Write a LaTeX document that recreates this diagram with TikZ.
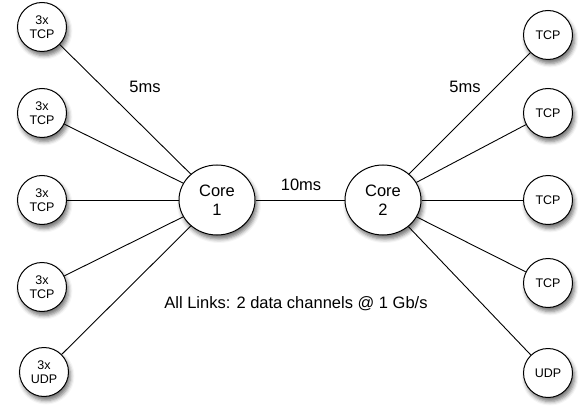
\documentclass[tikz,border=0pt]{standalone}
\usepackage{fontspec}
\setmainfont{Liberation Sans}
\usetikzlibrary{shapes.geometric,shadows.blur}
\begin{document}
\begin{tikzpicture}[x=1pt,y=-1pt,
  shad/.style={blur shadow={shadow xshift=2pt,shadow yshift=-4pt,shadow blur radius=4pt,shadow opacity=55}},
  leaf/.style={circle,draw=black,line width=1pt,fill=white,minimum size=49pt,inner sep=0pt,
    align=center,font=\fontsize{12.5}{13.5}\selectfont,shad},
  core/.style={ellipse,draw=black,line width=1pt,fill=white,minimum width=76pt,minimum height=70pt,inner sep=0pt,
    align=center,font=\fontsize{16.5}{19}\selectfont,shad},
  link/.style={draw=black,line width=0.9pt},
  lbl/.style={font=\fontsize{16.5}{19}\selectfont,inner sep=0pt}]
\useasboundingbox (0,0) rectangle (580,406);
\node[core] (c1) at (217,200) {Core\\1};
\node[core] (c2) at (383,200) {Core\\2};
\node[leaf] (l1) at (42,27) {3x\\TCP};
\node[leaf] (l2) at (42,113) {3x\\TCP};
\node[leaf] (l3) at (42,200) {3x\\TCP};
\node[leaf] (l4) at (42,287) {3x\\TCP};
\node[leaf] (l5) at (44,372) {3x\\UDP};
\node[leaf] (r1) at (548,35) {TCP};
\node[leaf] (r2) at (548,113) {TCP};
\node[leaf] (r3) at (548,200) {TCP};
\node[leaf] (r4) at (548,283) {TCP};
\node[leaf] (r5) at (548,373) {UDP};
\foreach \n in {l1,l2,l3,l4,l5} {\draw[link] (\n) -- (c1);}
\foreach \n in {r1,r2,r3,r4,r5} {\draw[link] (\n) -- (c2);}
\draw[link] (c1) -- (c2);
\node[lbl] (t10) at (301,185) {10ms};
\node[lbl] (t5a) at (145,87) {5ms};
\node[lbl] (t5b) at (465,87) {5ms};
\node[lbl] (tall) at (296,304) {All Links: 2 data channels @ 1 Gb/s};
\end{tikzpicture}
\end{document}
